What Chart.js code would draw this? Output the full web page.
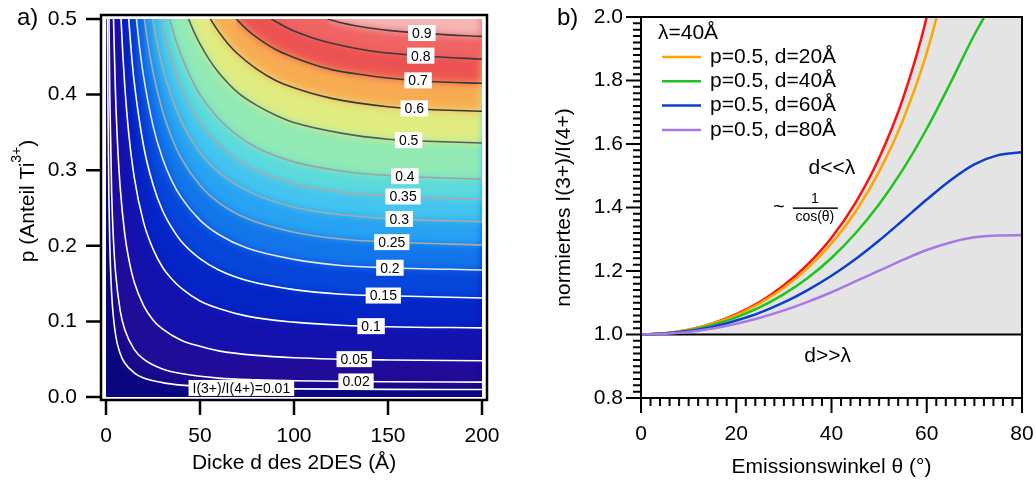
<!DOCTYPE html>
<html>
<head>
<meta charset="utf-8">
<script src="https://cdn.jsdelivr.net/npm/chart.js@4.4.1/dist/chart.umd.min.js"></script>
<style>
  body { margin: 0; background: #fff; }
  #wrap { position: relative; width: 1036px; height: 483px; }
  #left { position: absolute; left: 0; top: 0; }
  #right { position: absolute; left: 520px; top: 0; }
</style>
</head>
<body>
<div id="wrap">
  <canvas id="left" width="520" height="483"></canvas>
  <canvas id="right" width="516" height="483"></canvas>
</div>
<script>
// ---------- panel a): contour lines, [d (Å), p] ----------
const levels = [0.01, 0.02, 0.05, 0.1, 0.15, 0.2, 0.25, 0.3, 0.35, 0.4, 0.5, 0.6, 0.7, 0.8, 0.9];
const levelText = ["I(3+)/I(4+)=0.01", "0.02", "0.05", "0.1", "0.15", "0.2", "0.25", "0.3", "0.35", "0.4", "0.5", "0.6", "0.7", "0.8", "0.9"];

const c001 = [[0.8,0.5],[1,0.401],[1.5,0.269],[2,0.203],[3,0.137],[5,0.084],[7.5,0.058],[10,0.045],[15,0.032],[20,0.025],[30,0.019],[40,0.0157],[60,0.0127],[80,0.0115],[100,0.0108],[150,0.0101],[200,0.0100]];
const c002 = [[1.6,0.5],[2,0.402],[3,0.271],[4,0.206],[5,0.167],[7.5,0.115],[10,0.089],[15,0.063],[20,0.050],[30,0.037],[40,0.031],[60,0.025],[80,0.0227],[100,0.0214],[150,0.0201],[200,0.0197]];
const c005 = [[4,0.5],[5,0.405],[6,0.342],[7.5,0.279],[10,0.215],[12,0.184],[15,0.152],[20,0.121],[25,0.102],[30,0.090],[40,0.075],[50,0.067],[60,0.061],[80,0.055],[100,0.052],[150,0.049],[200,0.048]];
const c010 = [[8,0.5],[9,0.451],[10,0.411],[12,0.351],[15,0.291],[20,0.231],[25,0.196],[30,0.172],[35,0.156],[40,0.144],[50,0.127],[60,0.117],[75,0.107],[100,0.099],[125,0.095],[150,0.093],[200,0.0915]];
const c015 = [[12.1,0.5],[13.5,0.455],[15,0.417],[20,0.332],[25,0.281],[30,0.247],[35,0.224],[40,0.206],[50,0.183],[60,0.168],[75,0.154],[100,0.142],[125,0.136],[150,0.134],[200,0.131]];
const c020 = [[16.2,0.5],[18,0.460],[20,0.424],[25,0.359],[30,0.316],[35,0.286],[40,0.264],[50,0.234],[60,0.215],[75,0.197],[100,0.182],[125,0.174],[150,0.171],[200,0.168]];
const c025 = [[20.4,0.5],[22,0.473],[25,0.430],[30,0.379],[35,0.343],[40,0.316],[50,0.280],[60,0.257],[75,0.236],[100,0.218],[125,0.209],[150,0.205],[200,0.201]];
const c030 = [[24.8,0.5],[27,0.470],[30,0.437],[35,0.396],[40,0.365],[45,0.342],[50,0.323],[60,0.297],[75,0.273],[100,0.251],[125,0.241],[150,0.236],[200,0.232]];
const c035 = [[29.2,0.5],[32,0.471],[35,0.445],[40,0.410],[45,0.384],[50,0.363],[60,0.334],[75,0.306],[100,0.282],[125,0.271],[150,0.266],[200,0.261]];
const c040 = [[33.9,0.5],[37,0.473],[40,0.452],[45,0.423],[50,0.400],[60,0.368],[70,0.346],[80,0.330],[100,0.311],[125,0.299],[150,0.293],[200,0.288]];
const c050 = [[43.9,0.5],[47,0.482],[50,0.467],[55,0.446],[60,0.429],[70,0.403],[80,0.386],[90,0.373],[100,0.363],[125,0.349],[150,0.341],[175,0.338],[200,0.336]];
const c060 = [[55.5,0.5],[60,0.483],[65,0.467],[70,0.454],[80,0.434],[90,0.419],[100,0.409],[120,0.395],[150,0.384],[175,0.380],[200,0.378]];
const c070 = [[69.3,0.5],[75,0.486],[80,0.476],[90,0.460],[100,0.449],[110,0.440],[120,0.433],[140,0.425],[150,0.422],[175,0.417],[200,0.415]];
const c080 = [[87.9,0.5],[95,0.490],[100,0.484],[110,0.475],[120,0.468],[140,0.458],[150,0.455],[175,0.450],[200,0.447]];
const c090 = [[117.8,0.5],[125,0.495],[140,0.488],[150,0.485],[175,0.480],[200,0.477]];
const contours = [c001, c002, c005, c010, c015, c020, c025, c030, c035, c040, c050, c060, c070, c080, c090];

// ---------- panel b): normalised ratio vs emission angle ----------
const thetaDeg = [0, 5, 10, 15, 20, 25, 30, 35, 40, 45, 50, 55, 60, 65, 70, 75, 80];
const ratioThin = [1.000, 1.004, 1.015, 1.035, 1.064, 1.103, 1.155, 1.221, 1.305, 1.414, 1.556, 1.743, 2.000, 2.366, 2.924, 3.864, 5.759];
const ratioD20 = [1.000, 1.004, 1.015, 1.034, 1.061, 1.099, 1.147, 1.209, 1.287, 1.386, 1.513, 1.675, 1.887, 2.168];
const ratioD40 = [1.000, 1.003, 1.013, 1.030, 1.054, 1.086, 1.127, 1.178, 1.241, 1.318, 1.410, 1.520, 1.648, 1.793, 1.944, 2.075];
const ratioD60 = [1.000, 1.003, 1.011, 1.024, 1.044, 1.069, 1.101, 1.140, 1.185, 1.237, 1.296, 1.360, 1.425, 1.486, 1.536, 1.565, 1.574];
const ratioD80 = [1.000, 1.002, 1.008, 1.019, 1.034, 1.053, 1.076, 1.103, 1.133, 1.167, 1.201, 1.235, 1.266, 1.290, 1.306, 1.312, 1.313];
const baseTheta = [0, 80];
const baseRatio = [1.0, 1.0];
const seriesNames = ["p=0.5, d=20Å", "p=0.5, d=40Å", "p=0.5, d=60Å", "p=0.5, d=80Å"];
const legendTitle = "λ=40Å";

// ---------- styles ----------
const FONT = "'Liberation Sans', Arial, sans-serif";
Chart.defaults.font.family = FONT;
Chart.defaults.font.size = 21;
Chart.defaults.color = "#000";

const baseColor = "#0a0680";
const bandColors = ["#1a0a8c", "#220c9a", "#1412ae", "#0424c6", "#0646da", "#1276ea", "#28a2f2", "#44c4ee",
                    "#5cdadc", "#92eab4", "#e0ec80", "#f8ac52", "#ec5252", "#f06464", "#f6b6b6"];
const lineColors = ["#ffffff", "#ffffff", "#ffffff", "#ffffff", "#ffffff", "#e6e6e6", "#a9a9a9", "#a9a9a9",
                    "#a9a9a9", "#a0a0a0", "#5a5a5a", "#3a3a3a", "#3a3a3a", "#3a3a3a", "#3a3a3a"];
// where the value boxes sit along each contour (d in Å)
const labelD = [72, 133, 132, 141, 147.5, 151, 152, 156, 158, 159, 161, 164, 166, 167.4, 168];

const toXY = (arr) => arr.map(([d, p]) => ({ x: d, y: p }));
const zipXY = (xs, ys) => ys.map((v, i) => ({ x: xs[i], y: v }));

function pAt(curve, d) {
  for (let i = 1; i < curve.length; i++) {
    if (d <= curve[i][0]) {
      const [d0, p0] = curve[i - 1], [d1, p1] = curve[i];
      return p0 + (p1 - p0) * (d - d0) / (d1 - d0);
    }
  }
  return curve[curve.length - 1][1];
}

// keep the chart area where the layout padding says, ignore label overhang
const fixW = (w) => (s) => { s.width = w; s.paddingTop = 0; s.paddingBottom = 0; s.paddingLeft = 0; s.paddingRight = 0; };
const fixH = (h) => (s) => { s.height = h; s.paddingTop = 0; s.paddingBottom = 0; s.paddingLeft = 0; s.paddingRight = 0; };

// ---------- left chart ----------
const bandSets = contours.map((c, i) => ({
  data: toXY(c),
  borderColor: "rgba(0,0,0,0)",
  borderWidth: 0,
  backgroundColor: bandColors[i],
  fill: { value: 0.56 },
  pointRadius: 0,
  cubicInterpolationMode: "monotone",
  order: 100 - i,
}));
const lineSets = contours.map((c, i) => ({
  data: toXY(c),
  borderColor: lineColors[i],
  borderWidth: 1.6,
  fill: false,
  pointRadius: 0,
  cubicInterpolationMode: "monotone",
  order: 0,
}));
const lastBand = bandSets.length - 1;

const leftDecor = {
  id: "leftDecor",
  beforeDatasetsDraw(chart) {
    const { ctx, chartArea: a } = chart;
    ctx.save();
    ctx.fillStyle = baseColor;
    ctx.fillRect(a.left, a.top, a.right - a.left, a.bottom - a.top);
    ctx.restore();
    ctx.filter = "blur(4px)"; // soften the colour bands into a smooth map
  },
  afterDatasetDraw(chart, args) {
    if (args.index === lastBand) chart.ctx.filter = "none";
  },
  afterDatasetsDraw(chart) {
    chart.ctx.filter = "none";
  },
  afterDraw(chart) {
    const { ctx, chartArea: a, scales: { x, y } } = chart;
    ctx.save();
    // value boxes on the contours
    ctx.font = "14px " + FONT;
    ctx.textAlign = "center";
    ctx.textBaseline = "middle";
    levels.forEach((lv, i) => {
      const px = x.getPixelForValue(labelD[i]);
      const py = y.getPixelForValue(pAt(contours[i], labelD[i]));
      const w = ctx.measureText(levelText[i]).width + 8, h = 16;
      ctx.fillStyle = "#fff";
      ctx.fillRect(px - w / 2, py - h / 2, w, h);
      ctx.fillStyle = "#000";
      ctx.fillText(levelText[i], px, py + 1);
    });
    // frame and ticks
    const fl = a.left - 5, fr = a.right + 5, ft = a.top - 4, fb = a.bottom + 3;
    ctx.strokeStyle = "#000";
    ctx.lineWidth = 2.5;
    ctx.strokeRect(fl, ft, fr - fl, fb - ft);
    ctx.beginPath();
    x.ticks.forEach((t) => {
      const px = x.getPixelForValue(t.value);
      ctx.moveTo(px, fb); ctx.lineTo(px, fb + 15);
    });
    y.ticks.forEach((t) => {
      const py = y.getPixelForValue(t.value);
      ctx.moveTo(fl - 15, py); ctx.lineTo(fl, py);
    });
    ctx.stroke();
    // y title with superscript
    ctx.fillStyle = "#000";
    ctx.translate(28, 201);
    ctx.rotate(-Math.PI / 2);
    ctx.textAlign = "left";
    ctx.font = "21px " + FONT;
    const t1 = "p (Anteil Ti", t3 = ")";
    const w1 = ctx.measureText(t1).width, w3 = ctx.measureText(t3).width;
    ctx.font = "14px " + FONT;
    const w2 = ctx.measureText("3+").width;
    let cx = -(w1 + w2 + w3) / 2;
    ctx.font = "21px " + FONT;
    ctx.fillText(t1, cx, 0);
    cx += w1;
    ctx.font = "14px " + FONT;
    ctx.fillText("3+", cx, -11);
    cx += w2;
    ctx.font = "21px " + FONT;
    ctx.fillText(t3, cx, 0);
    ctx.restore();
    ctx.save();
    ctx.font = "24px " + FONT;
    ctx.fillStyle = "#000";
    ctx.textBaseline = "alphabetic";
    ctx.fillText("a)", 17, 25);
    ctx.restore();
  },
};

new Chart(document.getElementById("left"), {
  type: "line",
  data: { datasets: [...bandSets, ...lineSets] },
  options: {
    responsive: false,
    animation: false,
    events: [],
    layout: { padding: { top: 19, right: 38, bottom: 0, left: 0 } },
    plugins: { legend: { display: false }, tooltip: { enabled: false } },
    scales: {
      x: {
        type: "linear", min: 0, max: 200,
        grid: { display: false, drawTicks: false }, border: { display: false },
        ticks: { stepSize: 50, padding: 27, maxRotation: 0 },
        title: { display: true, text: "Dicke d des 2DES (Å)", padding: { top: 0, bottom: 7 } },
        afterFit: fixH(86),
      },
      y: {
        type: "linear", min: 0, max: 0.5,
        grid: { display: false, drawTicks: false }, border: { display: false },
        ticks: { stepSize: 0.1, padding: 29, callback: (v) => v.toFixed(1) },
        afterFit: fixW(106),
      },
    },
  },
  plugins: [leftDecor],
});

// ---------- right chart ----------
const isMajor = (v, step) => Math.abs(v / step - Math.round(v / step)) < 1e-6;

const rightDecor = {
  id: "rightDecor",
  afterDraw(chart) {
    const { ctx, chartArea: a, scales: { x, y } } = chart;
    ctx.save();
    ctx.strokeStyle = "#000";
    ctx.lineWidth = 2;
    ctx.strokeRect(a.left, a.top, a.right - a.left, a.bottom - a.top);
    ctx.beginPath();
    y.ticks.forEach((t) => {
      const py = y.getPixelForValue(t.value);
      const len = isMajor(t.value, 0.2) ? 15 : 8;
      ctx.moveTo(a.left - len, py); ctx.lineTo(a.left, py);
    });
    x.ticks.forEach((t) => {
      const px = x.getPixelForValue(t.value);
      const len = isMajor(t.value, 20) ? 15 : 8;
      ctx.moveTo(px, a.bottom); ctx.lineTo(px, a.bottom + len);
    });
    ctx.stroke();

    // legend
    ctx.fillStyle = "#000";
    ctx.font = "21px " + FONT;
    ctx.textBaseline = "middle";
    ctx.textAlign = "left";
    ctx.fillText(legendTitle, a.left + 17, a.top + 16);
    chart.data.datasets.filter((d) => d.inLegend).forEach((d, i) => {
      const yy = a.top + 40 + i * 24.3;
      ctx.strokeStyle = d.borderColor;
      ctx.lineWidth = 2.5;
      ctx.beginPath();
      ctx.moveTo(a.left + 21, yy); ctx.lineTo(a.left + 60, yy);
      ctx.stroke();
      ctx.fillText(d.label, a.left + 69, yy);
    });

    // annotations
    ctx.textAlign = "center";
    ctx.fillText("d<<λ", x.getPixelForValue(40.1), y.getPixelForValue(1.524));
    ctx.fillText("d>>λ", x.getPixelForValue(39.2), y.getPixelForValue(0.932));
    const fx = x.getPixelForValue(36.5), fy = y.getPixelForValue(1.398);
    ctx.font = "14px " + FONT;
    ctx.fillText("1", fx, fy - 9);
    ctx.fillText("cos(θ)", fx, fy + 9);
    ctx.fillRect(fx - 22, fy - 0.75, 45, 1.5);
    ctx.font = "20px " + FONT;
    ctx.fillText("~", fx - 36, fy - 1);

    ctx.font = "24px " + FONT;
    ctx.textAlign = "left";
    ctx.textBaseline = "alphabetic";
    ctx.fillText("b)", 37, 25);
    ctx.restore();
  },
};

const curve = (ys, color, order, label) => ({
  label: label,
  data: zipXY(thetaDeg, ys),
  borderColor: color,
  borderWidth: 2.5,
  fill: false,
  pointRadius: 0,
  cubicInterpolationMode: "monotone",
  order: order,
  inLegend: !!label,
});

const thin = curve(ratioThin, "#ff1010", 6, "");
thin.fill = { value: 1.0 };
thin.backgroundColor = "#e4e4e4";

new Chart(document.getElementById("right"), {
  type: "line",
  data: {
    datasets: [
      thin,
      { data: zipXY(baseTheta, baseRatio), borderColor: "#000", borderWidth: 2, pointRadius: 0, fill: false, order: 5 },
      curve(ratioD20, "#ffa500", 4, seriesNames[0]),
      curve(ratioD40, "#1ec41e", 3, seriesNames[1]),
      curve(ratioD60, "#0c3ed0", 2, seriesNames[2]),
      curve(ratioD80, "#a878e6", 1, seriesNames[3]),
    ],
  },
  options: {
    responsive: false,
    animation: false,
    events: [],
    layout: { padding: { top: 17, right: 14, bottom: 0, left: 0 } },
    plugins: { legend: { display: false }, tooltip: { enabled: false } },
    scales: {
      x: {
        type: "linear", min: 0, max: 80,
        grid: { display: false, drawTicks: false }, border: { display: false },
        ticks: { stepSize: 2, autoSkip: false, padding: 24, maxRotation: 0,
                 callback: (v) => (isMajor(v, 20) ? String(Math.round(v)) : "") },
        title: { display: true, text: "Emissionswinkel θ (°)", padding: { top: 0, bottom: 3 } },
        afterFit: fixH(85),
      },
      y: {
        type: "linear", min: 0.8, max: 2.0,
        grid: { display: false, drawTicks: false }, border: { display: false },
        ticks: { stepSize: 0.02, autoSkip: false, padding: 18,
                 callback: (v) => (isMajor(v, 0.2) ? v.toFixed(1) : "") },
        title: { display: true, text: "normiertes I(3+)/I(4+)", padding: { top: 32, bottom: 0 } },
        afterFit: fixW(121),
      },
    },
  },
  plugins: [rightDecor],
});
</script>
</body>
</html>
